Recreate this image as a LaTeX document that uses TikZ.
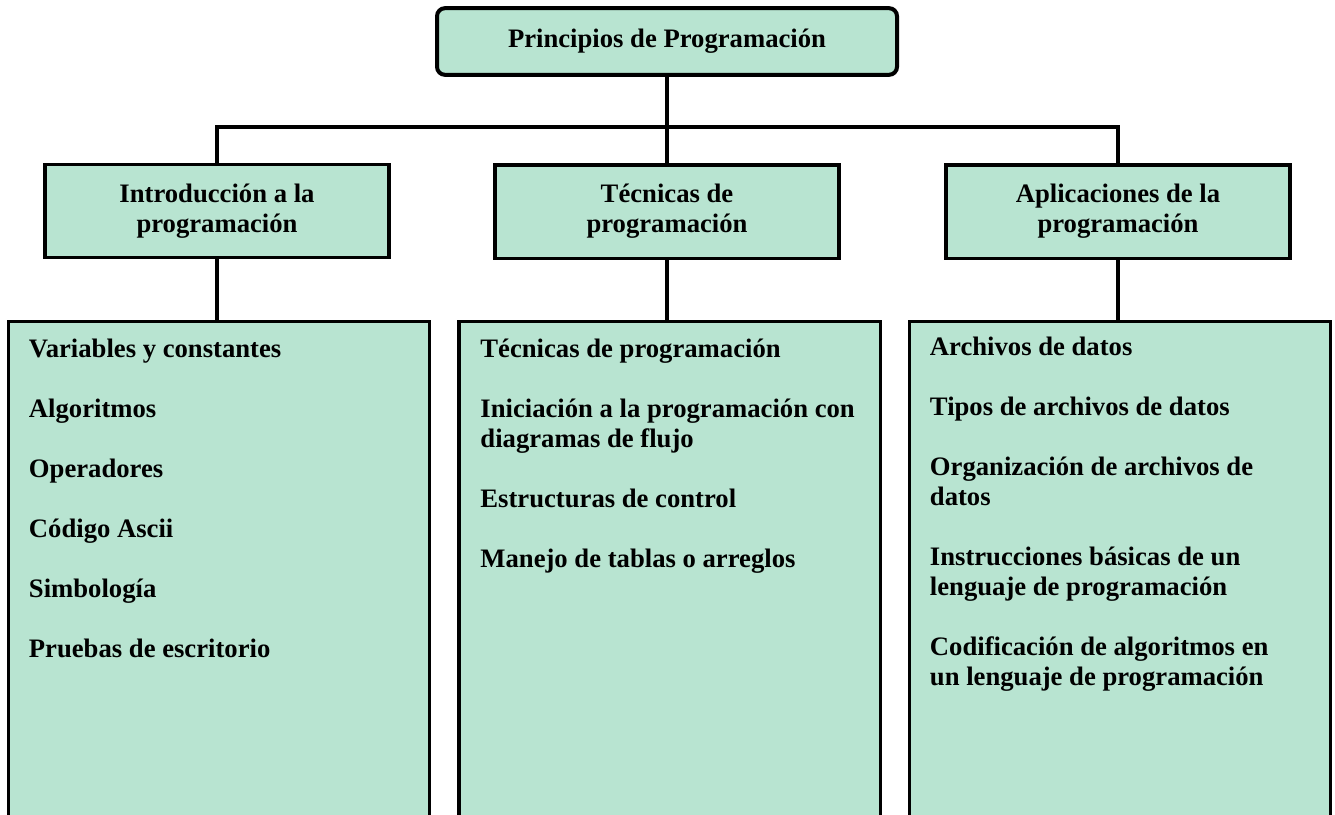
\documentclass[tikz,border=0pt]{standalone}
\usepackage{fontspec}
\setmainfont{Liberation Serif}
\usepackage{tikz}
\usetikzlibrary{positioning, calc}
\definecolor{mintfill}{RGB}{184,228,209}

\begin{document}
\begin{tikzpicture}[x=0.75pt, y=-0.75pt,
    topic/.style={rectangle, draw=black, line width=2.5pt, fill=mintfill,
                  minimum width=258pt, minimum height=70pt, align=center,
                  font=\bfseries\fontsize{20}{22.5}\selectfont},
    root/.style={topic, rounded corners=6pt, line width=3pt,
                 minimum width=345pt, minimum height=50pt},
    listbox/.style={rectangle, draw=black, line width=2.5pt, fill=mintfill,
                    minimum width=316pt, minimum height=390pt, anchor=north},
    items/.style={anchor=north west, inner sep=0pt, align=left,
                  font=\bfseries\fontsize{20}{22.5}\selectfont},
    link/.style={draw=black, line width=3pt}
]
    \path[use as bounding box, clip] (0,0) rectangle (1335,814);

    % Root and topics
    \node[root] (title) at (667,41.5) {Principios de Programación};
    \node[topic] (intro) at (217,211) {Introducción a la\\programación};
    \node[topic] (tech) at (667,211.5) {Técnicas de\\programación};
    \node[topic] (apps) at (1118,211.5) {Aplicaciones de la\\programación};

    % Content boxes
    \node[listbox] (intro list) at (219,320) {};
    \node[listbox] (tech list) at (669.5,320) {};
    \node[listbox] (apps list) at (1120,320) {};

    \node[items] (intro items) at ([shift={(22,19)}]intro list.north west)
        {Variables y constantes\\[22.5pt]
         Algoritmos\\[22.5pt]
         Operadores\\[22.5pt]
         Código Ascii\\[22.5pt]
         Simbología\\[22.5pt]
         Pruebas de escritorio};
    \node[items] (tech items) at ([shift={(23,19)}]tech list.north west)
        {Técnicas de programación\\[22.5pt]
         Iniciación a la programación con\\
         diagramas de flujo\\[22.5pt]
         Estructuras de control\\[22.5pt]
         Manejo de tablas o arreglos};
    \node[items] (apps items) at ([shift={(22,17)}]apps list.north west)
        {Archivos de datos\\[22.5pt]
         Tipos de archivos de datos\\[22.5pt]
         Organización de archivos de\\
         datos\\[22.5pt]
         Instrucciones básicas de un\\
         lenguaje de programación\\[22.5pt]
         Codificación de algoritmos en\\
         un lenguaje de programación};

    % Connectors
    \coordinate (bar) at (667,127);
    \draw[link] (title.south) -- (tech.north);
    \draw[link] (intro.north) -- (intro.north |- bar) -- (apps.north |- bar) -- (apps.north);
    \draw[link] (intro.south) -- (intro.south |- intro list.north);
    \draw[link] (tech.south) -- (tech.south |- tech list.north);
    \draw[link] (apps.south) -- (apps.south |- apps list.north);
\end{tikzpicture}
\end{document}
